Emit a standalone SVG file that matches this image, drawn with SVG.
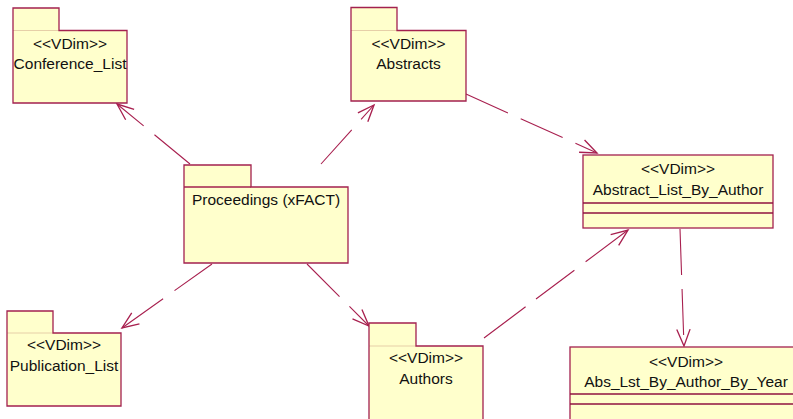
<svg xmlns="http://www.w3.org/2000/svg" width="793" height="419" viewBox="0 0 793 419">
  <style>
    .fill { fill: #ffffcc; stroke: none; }
    .edge { fill: none; stroke: #a3214f; stroke-width: 1.3; }
    .seam { fill: none; stroke: #e6cfa8; stroke-width: 1; }
    .cls { fill: #ffffcc; stroke: #a3214f; stroke-width: 1.3; }
    .div { stroke: #8f1340; stroke-width: 1.3; }
    .t { font-family: "Liberation Sans", Arial, sans-serif; font-size: 15.5px; fill: #111111; text-anchor: middle; }
    .dep { fill: none; stroke: #a8204f; stroke-width: 1.1; stroke-dasharray: 46 14; }
  </style>
  <defs>
    <marker id="open" markerUnits="userSpaceOnUse" markerWidth="20" markerHeight="20" viewBox="-17 -8 18 16" refX="0" refY="0" orient="auto" overflow="visible">
      <path d="M -15 -6 L 0 0 L -15 6" fill="none" stroke="#a8204f" stroke-width="1.2" stroke-dasharray="none"/>
    </marker>
  </defs>

  <!-- dependency connectors -->
  <g id="connectors">
    <path class="dep" d="M 190 164 L 117 104" marker-end="url(#open)"/>
    <path class="dep" d="M 321 164 L 374 105" marker-end="url(#open)"/>
    <path class="dep" d="M 466 94 L 597 153" marker-end="url(#open)"/>
    <path class="dep" d="M 484 338 L 628 230" style="stroke-dasharray: 52 13 48 14 80" marker-end="url(#open)"/>
    <path class="dep" d="M 212 264 L 122 328" style="stroke-dasharray: 46 14 60" marker-end="url(#open)"/>
    <path class="dep" d="M 307 264 L 369 326" marker-end="url(#open)"/>
    <path class="dep" d="M 680 229 L 684 346" marker-end="url(#open)"/>
  </g>

  <!-- packages -->
  <g id="conference_list">
    <rect class="fill" x="13" y="8" width="46" height="23"/>
    <rect class="fill" x="13" y="30.5" width="114" height="72.5"/>
    <line class="seam" x1="13" y1="30.5" x2="59" y2="30.5"/>
    <path class="edge" d="M 13 103 V 8 H 59 V 30.5 H 127 V 103 Z"/>
    <text class="t" x="70" y="48.5">&lt;&lt;VDim&gt;&gt;</text>
    <text class="t" x="70" y="68.5">Conference_List</text>
  </g>

  <g id="abstracts">
    <rect class="fill" x="351" y="7.5" width="46" height="23.5"/>
    <rect class="fill" x="351" y="30.5" width="115" height="70.5"/>
    <line class="seam" x1="351" y1="30.5" x2="397" y2="30.5"/>
    <path class="edge" d="M 351 101 V 7.5 H 397 V 30.5 H 466 V 101 Z"/>
    <text class="t" x="408.5" y="48.5">&lt;&lt;VDim&gt;&gt;</text>
    <text class="t" x="408.5" y="68.5">Abstracts</text>
  </g>

  <g id="proceedings">
    <rect class="fill" x="184" y="165" width="67" height="22.5"/>
    <rect class="fill" x="184" y="187" width="164" height="76"/>
    <path class="edge" d="M 184 263 V 165 H 251 V 187 H 348 V 263 Z"/>
    <line class="edge" x1="184" y1="187" x2="251" y2="187"/>
    <text class="t" x="266" y="204.5">Proceedings (xFACT)</text>
  </g>

  <g id="publication_list">
    <rect class="fill" x="7" y="311" width="46" height="22.5"/>
    <rect class="fill" x="7" y="333" width="114" height="73"/>
    <line class="seam" x1="7" y1="333" x2="53" y2="333"/>
    <path class="edge" d="M 7 406 V 311 H 53 V 333 H 121 V 406 Z"/>
    <text class="t" x="64" y="349.5">&lt;&lt;VDim&gt;&gt;</text>
    <text class="t" x="64" y="370.5">Publication_List</text>
  </g>

  <g id="authors">
    <rect class="fill" x="369" y="323" width="47" height="23.5"/>
    <rect class="fill" x="369" y="346" width="114" height="80"/>
    <line class="seam" x1="369" y1="346" x2="416" y2="346"/>
    <path class="edge" d="M 369 426 V 323 H 416 V 346 H 483 V 426"/>
    <text class="t" x="426" y="362.5">&lt;&lt;VDim&gt;&gt;</text>
    <text class="t" x="426" y="383.5">Authors</text>
  </g>

  <!-- classes -->
  <g id="abstract_list_by_author">
    <rect class="cls" x="583" y="155" width="190" height="73"/>
    <line class="div" x1="583" y1="203" x2="773" y2="203"/>
    <line class="div" x1="583" y1="213" x2="773" y2="213"/>
    <text class="t" x="678" y="174">&lt;&lt;VDim&gt;&gt;</text>
    <text class="t" x="678" y="195">Abstract_List_By_Author</text>
  </g>

  <g id="abs_lst_by_author_by_year">
    <rect class="cls" x="570" y="347" width="232" height="80"/>
    <line class="div" x1="570" y1="394" x2="802" y2="394"/>
    <line class="div" x1="570" y1="404" x2="802" y2="404"/>
    <text class="t" x="686" y="367">&lt;&lt;VDim&gt;&gt;</text>
    <text class="t" x="686" y="387">Abs_Lst_By_Author_By_Year</text>
  </g>
</svg>
